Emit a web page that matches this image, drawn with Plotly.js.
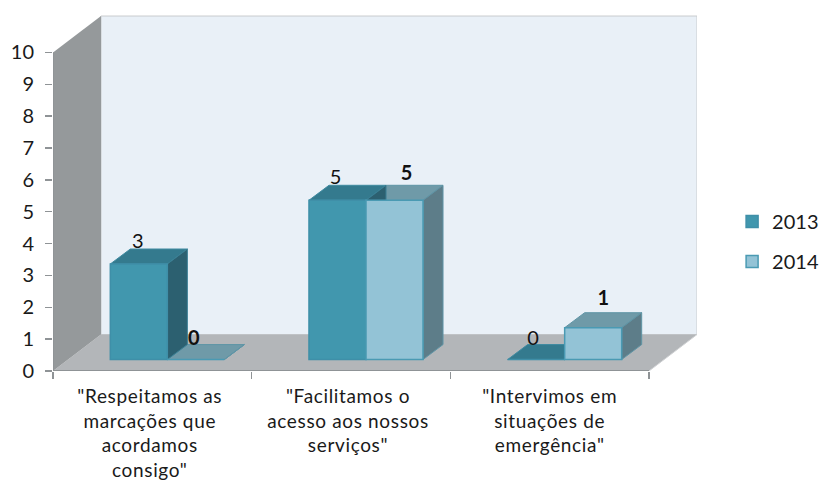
<!DOCTYPE html>
<html><head><meta charset="utf-8">
<script src="https://cdn.plot.ly/plotly-3.0.1.min.js"></script>
<style>html,body{margin:0;padding:0;background:#fff}.xtick text{letter-spacing:.65px}</style></head>
<body><div id="chart" style="width:822px;height:481px"></div>
<script>
const categories = ['"Respeitamos as<br>marcações que<br>acordamos<br>consigo"','"Facilitamos o<br>acesso aos nossos<br>serviços"','"Intervimos em<br>situações de<br>emergência"'];
const series2013 = [3, 5, 0];
const series2014 = [0, 5, 1];
const yTicks = [0,1,2,3,4,5,6,7,8,9,10];
const catIdx = [0,1,2];
const labelPos = [-0.013,0.985,2];
const boundaries = [-0.5,0.5,1.5,2.5];
// per-point data-label nudges, in pixels (right, up)
const nudge13 = [[-1,1],[-2,2],[-3,0]];
const nudge14 = [[-2,0],[12,6],[10,8]];

// 3-D projection constants, in axis units
const wallDX = 0.2416, wallDY = 1.144;
const barW = 0.287, shiftX = 0.0755, baseY = 0.36, barDX = 0.1007, barDY = 0.47;
const xR = [-0.5, 2.7416], yR = [0, 11.176];
const xPx = 198.67, yPx = 31.9;
const off13 = -barW + shiftX, off14 = shiftX;
const FONT = 'Lato, sans-serif', TXT = '#1a1a1a';

function faces(vals, off) {
  const top = {x:[],y:[]}, side = {x:[],y:[]};
  vals.forEach((v,i) => {
    const x0=i+off, x1=x0+barW, y=baseY+v;
    top.x.push(x0,x1,x1+barDX,x0+barDX,x0,null);
    top.y.push(y,y,y+barDY,y+barDY,y,null);
    side.x.push(x1,x1,x1+barDX,x1+barDX,x1,null);
    side.y.push(baseY,y,y+barDY,baseY+barDY,baseY,null);
  });
  return {top,side};
}
function poly(f,fill,line){
  return {x:f.x,y:f.y,type:'scatter',mode:'lines',fill:'toself',fillcolor:fill,
    line:{color:line,width:1},hoverinfo:'skip',showlegend:false,xaxis:'x',yaxis:'y'};
}
const f13=faces(series2013,off13), f14=faces(series2014,off14);
function front(name,vals,off,fill,line,group){
  return {name,x:catIdx,y:vals,base:baseY,width:barW,offset:off,type:'bar',xaxis:'x2',yaxis:'y2',
    legendgroup:group,marker:{color:fill,line:{color:line,width:1.5}},hoverinfo:'skip'};
}
function labels(vals,off,weight,nudge){
  return {x:catIdx.map(i=>i+off+barW/2+nudge[i][0]/xPx),y:vals.map((v,i)=>v+baseY+0.3+nudge[i][1]/yPx),text:vals.map(String),type:'scatter',mode:'text',
    textposition:'top center',textfont:{family:FONT,size:20,color:'#111',weight},
    xaxis:'x2',yaxis:'y2',showlegend:false,hoverinfo:'skip',cliponaxis:false};
}
const data=[
  poly(f14.top,'#6f9aa8','#5f95a6'), poly(f14.side,'#5d7d89','#5f95a6'),
  poly(f13.top,'#347a8e','#3f8aa0'), poly(f13.side,'#2c6070','#3a7f94'),
  front('2013',series2013,off13,'#4197ae','#3f8fa8','a'),
  front('2014',series2014,off14,'#93c3d6','#4a9ab3','b'),
  labels(series2013,off13,400,nudge13), labels(series2014,off14,700,nudge14)
];
function path(pts){return 'M'+pts.map(p=>p[0]+','+p[1]).join('L')+'Z';}
const L=xR[0], R=boundaries[3], T=yTicks[10];
const shapes=[
  {type:'path',path:path([[L+wallDX,wallDY],[L+wallDX,T+wallDY],[R+wallDX,T+wallDY],[R+wallDX,wallDY]]),fillcolor:'#e9f0f7',line:{color:'#c9ccce',width:1},layer:'below'},
  {type:'path',path:path([[L,0],[L+wallDX,wallDY],[R+wallDX,wallDY],[R,0]]),fillcolor:'#b3b6b9',line:{width:0},layer:'below'},
  {type:'path',path:path([[L,0],[L,T],[L+wallDX,T+wallDY],[L+wallDX,wallDY]]),fillcolor:'#95999b',line:{width:0},layer:'below'},
  {type:'line',x0:L,x1:R,y0:0,y1:0,line:{color:'#8f9396',width:2},layer:'below'},
  {type:'line',x0:L,x1:L,y0:0,y1:T,line:{color:'#8f9396',width:1.5},layer:'below'},
  {type:'line',x0:R,x1:R+wallDX,y0:0,y1:wallDY,line:{color:'#d0d2d4',width:1},layer:'below'}
];
const layout={
  width:822,height:481,margin:{l:53,r:125,t:15,b:110,pad:0,autoexpand:false},
  paper_bgcolor:'#fff',plot_bgcolor:'rgba(0,0,0,0)',
  font:{family:FONT,size:20,color:TXT},
  bargap:0,showlegend:true,
  xaxis:{range:xR,tickmode:'array',tickvals:labelPos,ticktext:categories,ticks:'',showgrid:false,zeroline:false,showline:false,
    tickfont:{family:FONT,size:19,color:TXT},tickangle:0,ticklabelstandoff:12,
    minor:{tickmode:'array',tickvals:boundaries,ticks:'outside',ticklen:7,tickwidth:1.5,tickcolor:'#8f9396',showgrid:false}},
  yaxis:{range:yR,tickmode:'array',tickvals:yTicks,ticktext:yTicks.map(String),ticks:'outside',ticklen:7,tickwidth:1.5,tickcolor:'#8f9396',
    showgrid:false,zeroline:false,showline:false,tickfont:{family:FONT,size:20,color:TXT},ticklabelstandoff:7},
  xaxis2:{range:xR,overlaying:'x',visible:false},
  yaxis2:{range:yR,overlaying:'y',visible:false},
  legend:{x:1.0545,y:0.475,xanchor:'left',yanchor:'top',bgcolor:'rgba(0,0,0,0)',font:{family:FONT,size:20,color:TXT},tracegroupgap:11,itemwidth:30},
  shapes
};
Plotly.newPlot('chart',data,layout,{displayModeBar:false,staticPlot:true});
</script></body></html>
